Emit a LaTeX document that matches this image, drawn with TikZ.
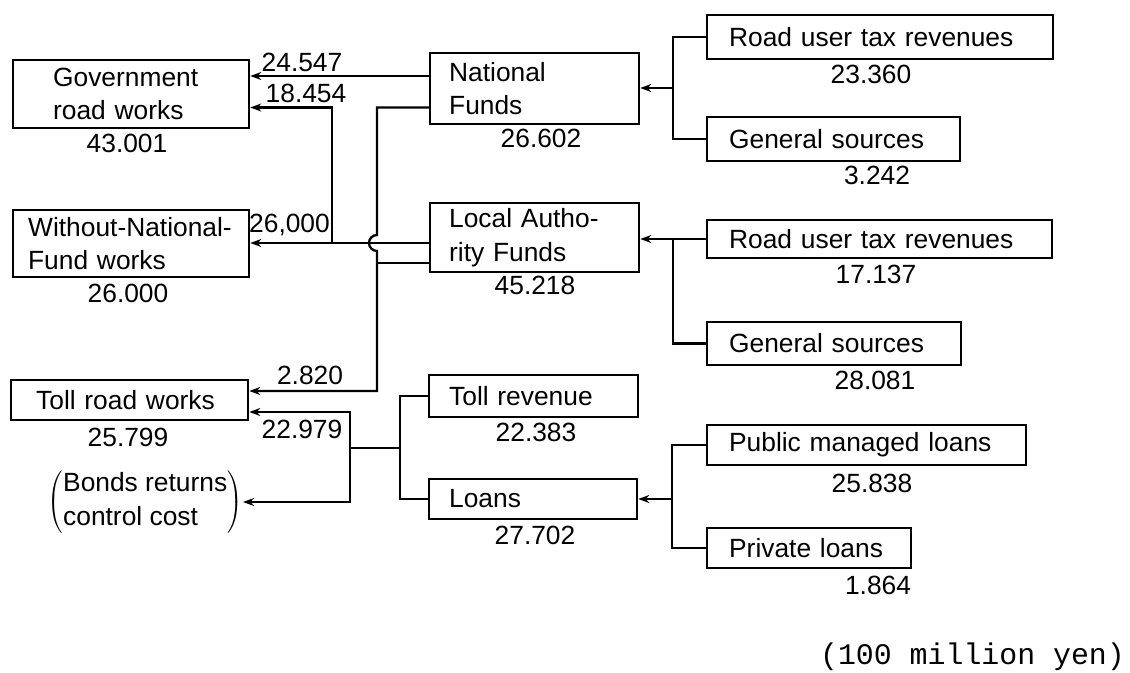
\documentclass[tikz,border=0pt]{standalone}
\usepackage{fontspec}
\setmainfont{Liberation Sans}
\newfontfamily\unitfont{Liberation Mono}
\usetikzlibrary{arrows.meta}

\begin{document}
\begin{tikzpicture}[
  every node/.style={font=\fontsize{15}{19}\selectfont},
  box/.style={draw, line width=1.3pt, align=left, inner ysep=0pt, anchor=west},
  val/.style={inner sep=0pt},
  flow/.style={line width=1.3pt, -{Stealth[length=0.22cm,width=0.16cm]}},
  link/.style={line width=1.3pt}
]
  \useasboundingbox (0,0) rectangle (22.6,-13.46);

  % uses of the funds
  \node[box, inner xsep=0.8cm, text width=3.12cm, minimum height=1.36cm] (gov) at (0.24,-1.88) {Government\\road works};
  \node[box, inner xsep=0.3cm, text width=4.12cm, minimum height=1.34cm] (wnf) at (0.24,-4.87) {\mbox{Without-National-}\\Fund works};
  \node[box, inner xsep=0.5cm, text width=3.74cm, minimum height=0.8cm] (toll) at (0.20,-8.00) {Toll road works};
  \node[val, anchor=east] (bonds) at (4.86,-10.04) {$\left(\begin{tabular}{@{}l@{}}Bonds returns\\control cost\end{tabular}\right)$};

  % funds
  \node[box, inner xsep=0.38cm, text width=3.42cm, minimum height=1.42cm] (natf) at (8.58,-1.77) {National\\Funds};
  \node[box, inner xsep=0.38cm, text width=3.42cm, minimum height=1.38cm] (laf) at (8.58,-4.75) {Local Autho-\\rity Funds};
  \node[box, inner xsep=0.4cm, text width=3.38cm, minimum height=0.84cm] (trev) at (8.56,-7.92) {Toll revenue};
  \node[box, inner xsep=0.4cm, text width=3.36cm, minimum height=0.8cm] (loans) at (8.56,-9.98) {Loans};

  % sources
  \node[box, inner xsep=0.44cm, text width=6.04cm, minimum height=0.88cm] (rut1) at (14.12,-0.74) {Road user tax revenues};
  \node[box, inner xsep=0.44cm, text width=4.18cm, minimum height=0.88cm] (gs1) at (14.12,-2.78) {General sources};
  \node[box, inner xsep=0.44cm, text width=6.02cm, minimum height=0.76cm] (rut2) at (14.12,-4.78) {Road user tax revenues};
  \node[box, inner xsep=0.44cm, text width=4.20cm, minimum height=0.86cm] (gs2) at (14.12,-6.87) {General sources};
  \node[box, inner xsep=0.44cm, text width=5.50cm, minimum height=0.8cm] (pml) at (14.12,-8.90) {Public managed loans};
  \node[box, inner xsep=0.44cm, text width=3.20cm, minimum height=0.8cm] (pl) at (14.12,-10.96) {Private loans};

  % amounts
  \node[val] (v43001) at (2.54,-2.86) {43.001};
  \node[val] (v26000) at (2.56,-5.86) {26.000};
  \node[val] (v25799) at (2.56,-8.74) {25.799};
  \node[val] (v26602) at (10.82,-2.76) {26.602};
  \node[val] (v45218) at (10.70,-5.70) {45.218};
  \node[val] (v22383) at (10.72,-8.64) {22.383};
  \node[val] (v27702) at (10.70,-10.70) {27.702};
  \node[val] (v23360) at (17.42,-1.48) {23.360};
  \node[val] (v3242) at (17.54,-3.50) {3.242};
  \node[val] (v17137) at (17.52,-5.48) {17.137};
  \node[val] (v28081) at (17.50,-7.60) {28.081};
  \node[val] (v25838) at (17.44,-9.66) {25.838};
  \node[val] (v1864) at (17.56,-11.70) {1.864};

  % amounts on the arrows
  \node[val] (l24547) at (6.04,-1.24) {24.547};
  \node[val] (l18454) at (6.12,-1.86) {18.454};
  \node[val] (l26000) at (5.79,-4.50) {26,000};
  \node[val] (l2820) at (6.20,-7.50) {2.820};
  \node[val] (l22979) at (6.04,-8.58) {22.979};

  \node[val, font=\unitfont\fontsize{17}{20}\selectfont] (unit) at (19.45,-13.14) {(100 million yen)};

  % joints
  \coordinate (nj) at (13.46,-1.76);
  \coordinate (lj) at (13.46,-4.78);
  \coordinate (oj) at (13.44,-9.98);
  \coordinate (tb) at (8.00,-8.96);
  \coordinate (tj) at (7.00,-8.96);
  \coordinate (gj) at (6.64,-4.86);
  \coordinate (vtop) at (7.54,-2.15);
  \coordinate (vbot) at (7.54,-7.82);

  % sources into funds
  \draw[link] (rut1.west) -| (nj) |- (gs1.west);
  \draw[flow] (nj) -- (natf.east |- nj);
  \draw[link] (rut2.west) -| (lj) |- (gs2.west);
  \draw[flow] (lj) -- (laf.east |- lj);
  \draw[link] (pml.west) -| (oj) |- (pl.west);
  \draw[flow] (oj) -- (loans.east |- oj);

  % funds into works
  \draw[flow] (natf.west |- 0,-1.52) -- (gov.east |- 0,-1.52);
  \draw[flow] (laf.west |- gj) -- (wnf.east |- gj);
  \draw[flow] (gj) |- (gov.east |- vtop);
  \draw[flow] (natf.west |- vtop) -- (vtop) -- (7.54,-4.70)
    arc[start angle=90, end angle=270, radius=0.16] -- (vbot) -- (toll.east |- vbot);
  \draw[link] (laf.west |- 0,-5.26) -- (7.54,-5.26);
  \draw[link] (trev.west) -| (tb) |- (loans.west);
  \draw[link] (tb) -- (tj);
  \draw[flow] (tj) |- (toll.east |- 0,-8.24);
  \draw[flow] (tj) |- (bonds.east);
\end{tikzpicture}
\end{document}
